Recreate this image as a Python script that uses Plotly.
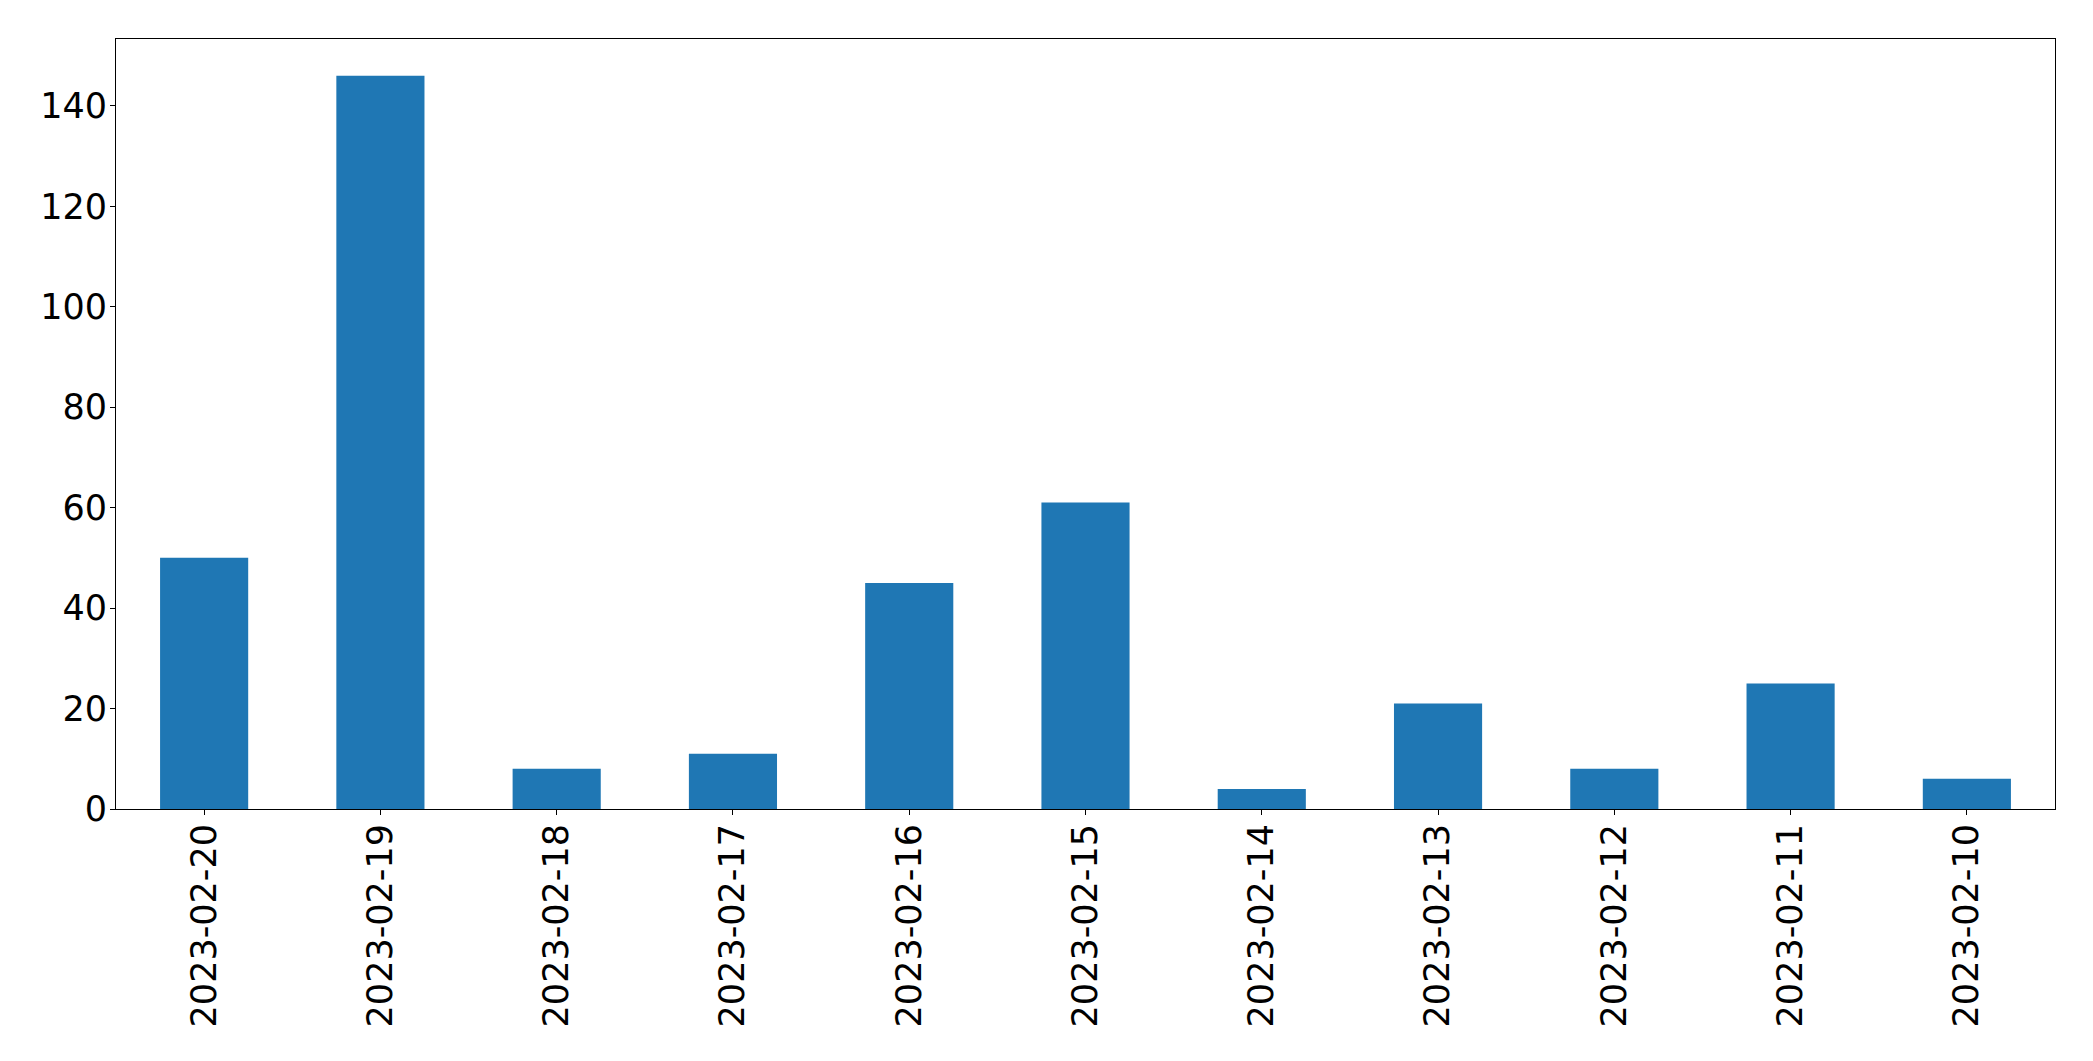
import plotly.graph_objects as go

dates = ["2023-02-20", "2023-02-19", "2023-02-18", "2023-02-17", "2023-02-16",
         "2023-02-15", "2023-02-14", "2023-02-13", "2023-02-12", "2023-02-11", "2023-02-10"]
counts = [50, 146, 8, 11, 45, 61, 4, 21, 8, 25, 6]
ytick_vals = [0, 20, 40, 60, 80, 100, 120, 140]

fig = go.Figure(go.Bar(x=dates, y=counts, marker=dict(color="#1f77b4", line=dict(width=0))))

font = dict(family="DejaVu Sans", size=35, color="black")
fig.update_layout(
    width=2085, height=1053,
    margin=dict(l=108, r=38, t=31, b=252),
    paper_bgcolor="white", plot_bgcolor="white",
    bargap=0.5, showlegend=False,
    font=font,
)
fig.update_xaxes(
    type="category", range=[-0.5, 10.5], tickangle=-90,
    showline=True, linecolor="black", linewidth=1, mirror=True,
    ticks="outside", ticklen=5, tickwidth=1, tickcolor="black",
    showgrid=False, zeroline=False, tickfont=font, ticklabelstandoff=-5,
)
fig.update_yaxes(
    range=[0, 146 * 1.05], tickvals=ytick_vals,
    showline=True, linecolor="black", linewidth=1, mirror=True,
    ticks="outside", ticklen=5, tickwidth=1, tickcolor="black",
    showgrid=False, zeroline=False, tickfont=font,
    ticklabelstandoff=-4,
)
fig.write_html("out.html")
